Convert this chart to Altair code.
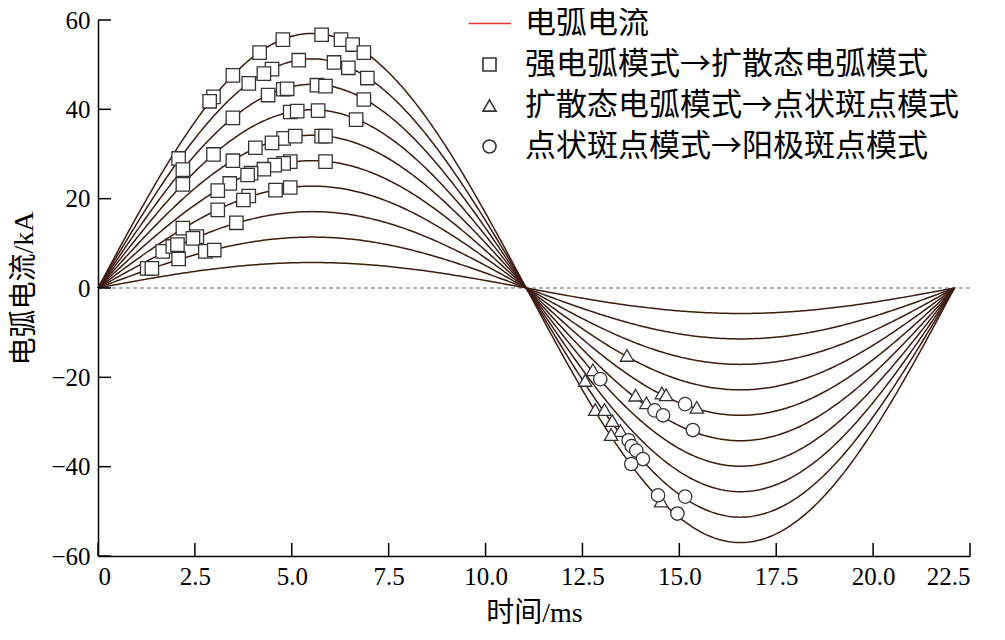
import altair as alt
import numpy as np
import pandas as pd

# ---- data ----
amplitudes = [5.7, 11.4, 17.1, 22.8, 28.5, 34.2, 39.9, 45.6, 51.3, 57.0]  # kA
period_ms = 22.1

sq_t = [4.77, 5.77, 6.27, 6.57, 6.86, 4.17, 3.48, 2.98, 2.88, 2.08,
        5.18, 4.49, 4.28, 3.89, 6.09, 6.46, 6.95, 2.19,
        5.65, 5.87, 4.78, 4.88, 4.39, 6.86, 3.48, 2.19,
        4.96, 5.14, 5.68, 6.66, 2.98, 2.19,
        5.77, 5.87, 4.79, 5.09, 4.49, 4.06, 3.48, 2.55, 2.45,
        5.87, 4.96, 4.79, 4.56, 4.28, 3.95, 3.86, 3.40, 3.09, 1.67, 1.93, 2.05,
        4.96, 4.58, 3.89, 3.75, 3.09, 3.57, 2.77, 3.00, 2.08, 1.27, 1.39]
sq_i = [55.6, 56.7, 55.6, 54.5, 52.7, 52.7, 47.6, 42.8, 41.8, 29.0,
        51.0, 49.0, 48.0, 45.8, 50.5, 49.3, 47.0, 26.5,
        45.4, 45.2, 44.5, 44.6, 43.2, 42.2, 38.1, 23.2,
        39.4, 39.6, 39.7, 37.7, 29.9, 13.4,
        34.0, 34.0, 33.5, 34.0, 32.5, 31.4, 28.5, 11.5, 11.1,
        28.3, 28.3, 27.9, 27.5, 26.6, 25.7, 25.3, 23.4, 21.8, 8.2, 9.3, 9.7,
        22.5, 21.9, 20.6, 19.7, 17.5, 14.6, 8.2, 8.5, 6.5, 4.4, 4.4]

tri_t = [13.65, 12.77, 12.57, 13.87, 14.55, 14.66, 14.15, 15.45, 12.83, 13.07,
         13.27, 13.48, 13.24, 14.53]
tri_i = [-15.1, -18.3, -20.7, -24.0, -23.5, -23.9, -25.7, -26.7, -27.2, -27.2,
         -29.7, -31.9, -32.8, -47.7]

cir_t = [12.96, 15.15, 14.36, 14.58, 15.35, 13.69, 13.77, 13.89, 14.06, 13.76,
         14.45, 15.15, 14.95]
cir_i = [-20.4, -26.0, -27.4, -28.5, -31.8, -34.1, -35.4, -36.4, -38.3, -39.4,
         -46.4, -46.7, -50.5]

legend_labels = ["电弧电流", "强电弧模式→扩散态电弧模式",
                 "扩散态电弧模式→点状斑点模式", "点状斑点模式→阳极斑点模式"]
x_ticks = [0, 2.5, 5.0, 7.5, 10.0, 12.5, 15.0, 17.5, 20.0, 22.5]
y_ticks = [-60, -40, -20, 0, 20, 40, 60]

# ---- tables ----
rows = []
for a in amplitudes:
    ts = np.linspace(0, period_ms, 401)
    for t in ts:
        rows.append({"t": float(t), "I": float(a * np.sin(2 * np.pi * t / period_ms)), "amp": a})
curve_df = pd.DataFrame(rows)

marker_df = pd.concat([
    pd.DataFrame({"t": sq_t, "I": sq_i, "type": legend_labels[1]}),
    pd.DataFrame({"t": tri_t, "I": tri_i, "type": legend_labels[2]}),
    pd.DataFrame({"t": cir_t, "I": cir_i, "type": legend_labels[3]}),
])

W, H = 872, 536
serif = "Liberation Serif, Noto Sans CJK SC"

xs = alt.Scale(domain=[0, 22.5], nice=False, zero=False)
ys = alt.Scale(domain=[-60, 60], nice=False, zero=False)
xa = alt.Axis(title="时间/ms", values=x_ticks, ticks=False, grid=False,
              labelExpr="datum.value == 0 ? '0' : format(datum.value, '.1f')",
              labelPadding=8, titlePadding=10)
ya = alt.Axis(title="电弧电流/kA", values=y_ticks, ticks=False, grid=False,
              labelPadding=8, titlePadding=12)

X = lambda: alt.X("t:Q", scale=xs, axis=xa)
Y = lambda: alt.Y("I:Q", scale=ys, axis=ya)

zero = alt.Chart(pd.DataFrame({"I": [0]})).mark_rule(
    strokeDash=[4, 3], color="#555555", strokeWidth=0.9).encode(y=Y())

curves = alt.Chart(curve_df).mark_line(color="#3d1c12", strokeWidth=1.5).encode(
    x=X(), y=Y(), detail="amp:N")

xtick_layer = alt.Chart(pd.DataFrame({"t": x_ticks})).mark_rule(
    color="black", strokeWidth=1.5).encode(x=X(), y=alt.value(H), y2=alt.value(H - 13))
ytick_layer = alt.Chart(pd.DataFrame({"I": y_ticks})).mark_rule(
    color="black", strokeWidth=1.5).encode(y=Y(), x=alt.value(0), x2=alt.value(13))

legend = alt.Legend(title=None, orient="none", legendX=376, legendY=-12,
                    labelFont="Noto Sans CJK SC", labelFontSize=31, labelColor="black",
                    labelLimit=0,
                    symbolSize=170, symbolStrokeWidth=1.6, labelOffset=20,
                    rowPadding=9, padding=0, symbolFillColor="white")

line_path = "M-3.2,0H3.3"
markers = alt.Chart(marker_df).mark_point(
    filled=True, fill="white", size=180, strokeWidth=1.3, opacity=1).encode(
    x=X(), y=Y(),
    shape=alt.Shape("type:N", scale=alt.Scale(domain=legend_labels,
                    range=[line_path, "square", "triangle-up", "circle"]), legend=legend),
    stroke=alt.Stroke("type:N", scale=alt.Scale(domain=legend_labels,
                      range=["#e0392f", "#333333", "#333333", "#333333"]), legend=legend),
)

chart = alt.layer(zero, curves, xtick_layer, ytick_layer, markers).properties(
    width=W, height=H,
    padding={"left": 90, "top": 12, "right": 27, "bottom": 80},
    autosize=alt.AutoSizeParams(type="none"),
).configure_view(stroke=None).configure_axis(
    domainColor="black", domainWidth=1.5,
    labelFont="Liberation Serif", labelFontSize=25, labelColor="black",
    titleFont=serif, titleFontSize=28, titleFontWeight="normal", titleColor="black",
)

chart.save("out.html", embed_options={"renderer": "svg", "actions": False})
